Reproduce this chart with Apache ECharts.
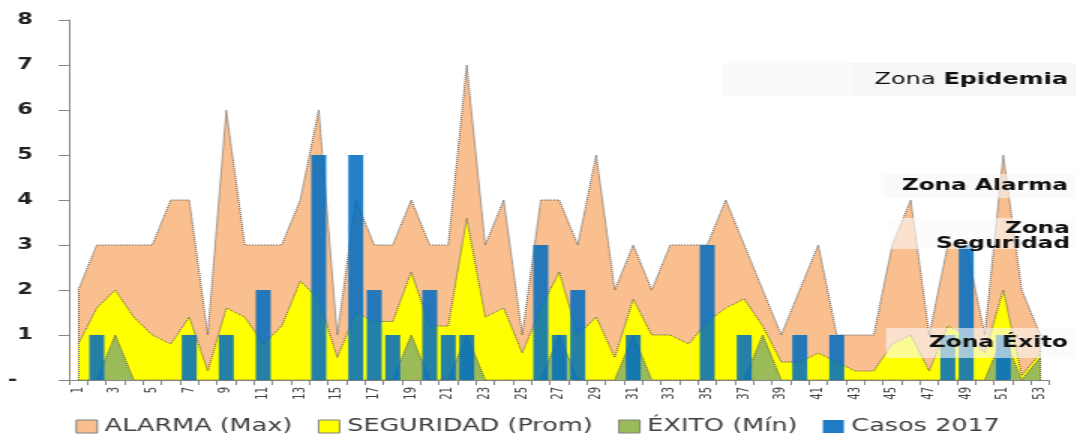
<!DOCTYPE html>
<html>
<head>
<meta charset="utf-8">
<script src="https://cdn.jsdelivr.net/npm/echarts@6/dist/echarts.min.js"></script>
<style>
  html, body { margin: 0; padding: 0; background: #fff; overflow: hidden; }
  #chart { height: 436px; transform-origin: 0 0; }
</style>
</head>
<body>
<div id="chart"></div>
<script>
// Epidemiological week numbers
const weeks = ['1','2','3','4','5','6','7','8','9','10','11','12','13','14','15','16','17','18','19','20',
  '21','22','23','24','25','26','27','28','29','30','31','32','33','34','35','36','37','38','39','40',
  '41','42','43','44','45','46','47','48','49','50','51','52','53'];

// Channel limits: maximum, mean and minimum of previous years
const alarmaMax = [2,3,3,3,3,4,4,1,6,3,3,3,4,6,1,4,3,3,4,3,3,7,3,4,1,4,4,3,5,2,3,2,3,3,3,4,3,2,1,2,3,1,1,1,3,4,1,3,3,1,5,2,1];
const seguridadProm = [0.8,1.6,2.0,1.4,1.0,0.8,1.4,0.2,1.6,1.4,0.8,1.2,2.2,1.8,0.5,1.5,1.3,1.3,2.4,1.2,1.2,3.6,1.4,1.6,0.6,1.6,2.4,1.0,1.4,0.5,1.8,1.0,1.0,0.8,1.3,1.6,1.8,1.2,0.4,0.4,0.6,0.4,0.2,0.2,0.8,1.0,0.2,1.2,1.0,0.6,2.0,0.1,0.6];
const exitoMin = [0,0,1,0,0,0,0,0,0,0,0,0,0,0,0,0,0,0,1,0,0,1,0,0,0,0,1,0,0,0,1,0,0,0,0,0,0,1,0,0,0,0,0,0,0,0,0,0,0,0,1,0,0.5];

// Cases reported in 2017
const casos2017 = [0,1,0,0,0,0,1,0,1,0,2,0,0,5,0,5,2,1,0,2,1,1,0,0,0,3,1,2,0,0,1,0,0,0,3,0,1,0,0,1,0,1,0,0,0,0,0,1,3,0,1,0,0];

const yTicks = ['-  ','1','2','3','4','5','6','7','8'];
const seriesNames = ['ALARMA (Max)', 'SEGURIDAD (Prom)', 'ÉXITO (Mín)', 'Casos 2017'];

// The chart is laid out narrow and widened horizontally
const S = 1.5;
const W = 1076 / S;
const el = document.getElementById('chart');
el.style.width = W + 'px';
el.style.transform = 'scaleX(' + S + ')';

const FONT = 'DejaVu Sans';
const ORANGE = '#FABF8F', YELLOW = '#FFFF00', GREEN = '#9BBB59', BLUE = 'rgba(0,108,192,0.86)';
const EDGE = { color: '#5a5a5a', type: 'dotted', width: 1 };

function areaSeries(name, data, fill, z) {
  return {
    name, type: 'line', data, z,
    symbol: 'none', smooth: false,
    lineStyle: EDGE,
    itemStyle: { color: fill },
    areaStyle: { color: fill, opacity: 1 },
    emphasis: { disabled: true }
  };
}

const px = v => v / S;   // horizontal page pixel -> layout pixel

function zoneBox(x0, y0, x1, y1, fill) {
  return { type: 'rect', z: 100, silent: true,
    shape: { x: px(x0), y: y0, width: px(x1 - x0), height: y1 - y0 },
    style: { fill } };
}
function zoneText(x, y, text, extra) {
  return { type: 'text', z: 101, silent: true, x: px(x), y,
    style: Object.assign({ text, align: 'right', verticalAlign: 'middle',
      fill: '#111', font: 'bold 15.5px "DejaVu Sans"' }, extra || {}) };
}

const chart = echarts.init(el, null, { renderer: 'canvas' });
const alarma = areaSeries(seriesNames[0], alarmaMax, ORANGE, 1);
alarma.markLine = {
  silent: true, symbol: 'none', label: { show: false }, lineStyle: EDGE, animation: false,
  data: [
    [{ coord: [weeks[0], 0] }, { coord: [weeks[0], alarmaMax[0]] }],
    [{ coord: [weeks[weeks.length - 1], 0] }, { coord: [weeks[weeks.length - 1], alarmaMax[alarmaMax.length - 1]] }]
  ]
};

chart.setOption({
  animation: false,
  backgroundColor: '#fff',
  grid: { left: 46, right: W - px(1050), top: 20, bottom: 56, containLabel: false },
  legend: {
    left: 'center', top: 413,
    icon: 'rect', itemWidth: 14, itemHeight: 13, itemGap: 17,
    textStyle: { fontFamily: FONT, fontSize: 17, color: '#404040' },
    selectedMode: false,
    data: [
      { name: seriesNames[0], itemStyle: { color: ORANGE, borderColor: '#7f7f7f', borderWidth: 1 } },
      { name: seriesNames[1], itemStyle: { color: YELLOW, borderColor: '#7f7f7f', borderWidth: 1 } },
      { name: seriesNames[2], itemStyle: { color: GREEN, borderColor: '#7f7f7f', borderWidth: 1 } },
      { name: seriesNames[3], itemStyle: { color: '#1f7bc6' } }
    ]
  },
  xAxis: {
    type: 'category', data: weeks, boundaryGap: true,
    axisLine: { lineStyle: { color: '#868686', width: 1 } },
    axisTick: { show: true, interval: 0, length: 5, lineStyle: { color: '#868686' } },
    axisLabel: { interval: 1, rotate: 90, margin: 7, fontFamily: FONT, fontSize: 10, color: '#404040' },
    splitLine: { show: false }
  },
  yAxis: {
    type: 'value', min: 0, max: 8, interval: 1,
    axisLine: { show: true, lineStyle: { color: '#868686', width: 1 } },
    axisTick: { show: true, length: 7, lineStyle: { color: '#868686' } },
    axisLabel: { margin: 24, fontFamily: FONT, fontSize: 15, fontWeight: 'bold', color: '#222',
      formatter: v => yTicks[Math.round(v)] },
    splitLine: { show: false }
  },
  series: [
    alarma,
    areaSeries(seriesNames[1], seguridadProm, YELLOW, 2),
    areaSeries(seriesNames[2], exitoMin, GREEN, 3),
    {
      name: seriesNames[3], type: 'bar', data: casos2017, z: 4,
      barWidth: '81%',
      itemStyle: { color: BLUE },
      emphasis: { disabled: true }
    }
  ],
  graphic: [
    zoneBox(722, 63, 1076, 96, 'rgba(238,238,238,0.3)'),
    zoneBox(853, 63, 1076, 96, 'rgba(238,238,238,0.35)'),
    zoneText(1068, 80, '{a|Zona }{b|Epidemia}', {
      rich: {
        a: { fontFamily: FONT, fontSize: 16, fontWeight: 'normal', fill: '#111' },
        b: { fontFamily: FONT, fontSize: 16, fontWeight: 'bold', fill: '#111' }
      }
    }),
    zoneBox(884, 174, 1076, 198, 'rgba(246,246,246,0.6)'),
    zoneText(1068, 186, 'Zona Alarma'),
    zoneBox(889, 218, 1076, 249, 'rgba(250,250,250,0.6)'),
    zoneText(1070, 236, 'Zona\nSeguridad', { lineHeight: 15 }),
    zoneBox(886, 328, 1076, 358, 'rgba(248,248,248,0.6)'),
    zoneText(1068, 343, 'Zona Éxito')
  ]
});
</script>
</body>
</html>
